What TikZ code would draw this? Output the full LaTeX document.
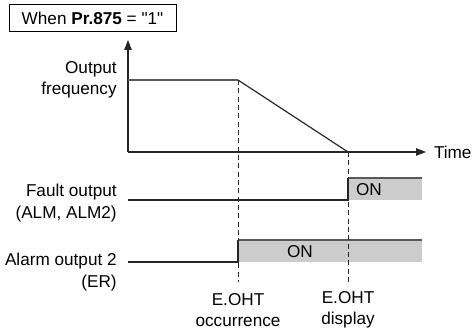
\documentclass[tikz,border=0pt]{standalone}
\usepackage{fontspec}
\setmainfont{Liberation Sans}[Ligatures=TeXOff]
\usetikzlibrary{arrows.meta}

\begin{document}
\begin{tikzpicture}[x=0.6pt,y=-0.6pt,font=\fontsize{10.3}{12.8}\selectfont,
        axis/.style={line width=0.7pt,black!85},
        sig/.style={line width=0.7pt,black!85},
        hi/.style={line width=1.1pt,black!65},
        onfill/.style={fill=black!20},
        guide/.style={line width=0.6pt,black!85,dash pattern=on 3pt off 2pt},
        lbl/.style={anchor=east,align=right,inner sep=0pt}]
        \useasboundingbox (0,0) rectangle (472,329);
        % condition box
        \node[draw,line width=0.6pt,minimum width=100.2pt,minimum height=16.2pt,inner sep=0pt] (cond) at (92.5,18.5) {When \textbf{Pr.875} = "1"};
        % points on the time axis
        \coordinate (o) at (128,152);
        \coordinate (ytop) at (128,40);
        \coordinate (xend) at (426,152);
        \coordinate (occ) at (238,80);
        \coordinate (stop) at (348,152);
        % axes and output frequency
        \draw[axis,-{Triangle[length=6pt,width=4.5pt]}] (o) -- (ytop);
        \draw[axis,-{Triangle[length=6pt,width=4.5pt]}] (o) -- (xend);
        \node[anchor=west,inner sep=0pt,xshift=4.6pt] (time) at (xend) {Time};
        \draw[hi] (128,80) -- (occ);
        \draw[sig] (occ) -- (stop);
        % fault output
        \fill[onfill] (348,178) rectangle (422,200);
        \draw[sig] (128,200) -- (348,200) -- (348,178);
        \draw[hi] (348,178) -- (422,178);
        \node (fon) at (369,190) {ON};
        % alarm output 2
        \fill[onfill] (238,240) rectangle (422,262);
        \draw[sig] (128,262) -- (238,262) -- (238,240);
        \draw[hi] (238,240) -- (422,240);
        \node (aon) at (300,252) {ON};
        % guide lines
        \draw[guide] (occ) -- (238,282);
        \draw[guide] (stop) -- (348,282);
        % labels
        \node[lbl] (freq) at (117,80) {Output\\frequency};
        \node[lbl] (fault) at (117,203) {Fault output\\(ALM, ALM2)};
        \node[lbl] (alarm) at (117,272) {Alarm output 2\\(ER)};
        \node[align=center,inner sep=0pt] (eocc) at (238,310) {E.OHT\\occurrence};
        \node[align=center,inner sep=0pt] (edisp) at (348,310) {E.OHT\\display};
    \end{tikzpicture}
\end{document}
